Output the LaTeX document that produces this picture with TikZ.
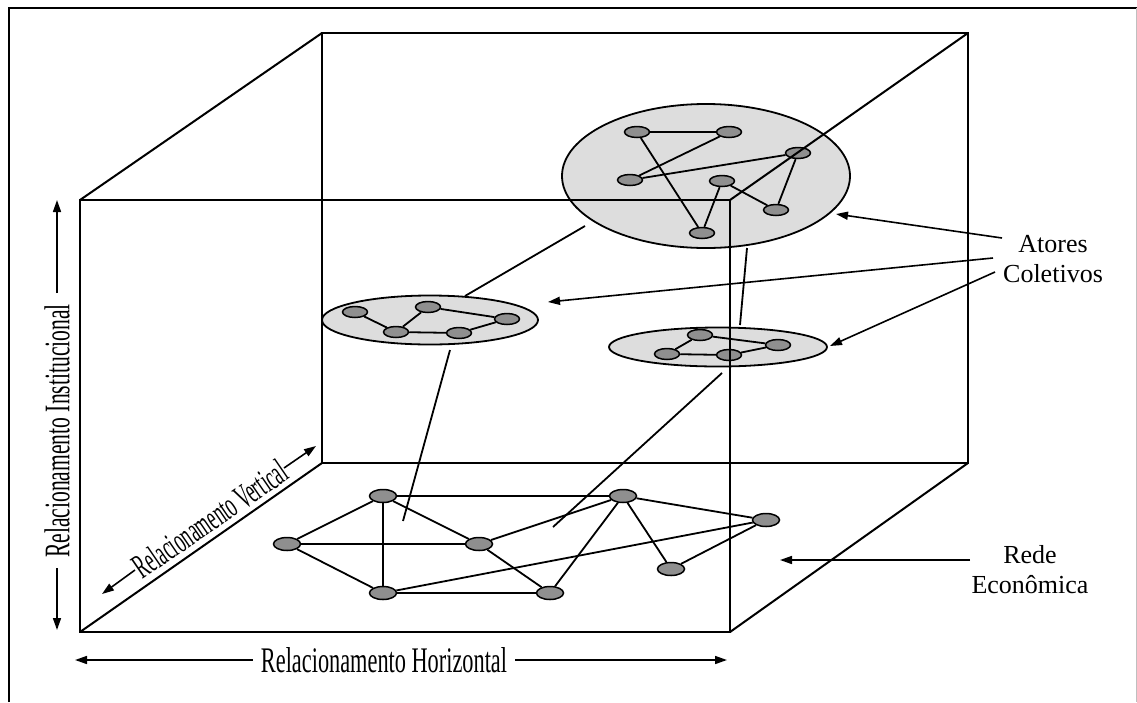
\documentclass[tikz,border=0pt]{standalone}
\usepackage{fontspec}
\setmainfont{Liberation Serif}
\usepackage{graphicx}
\usetikzlibrary{arrows.meta,shapes.geometric}
\definecolor{grpfill}{RGB}{221,221,221}
\definecolor{actfill}{RGB}{143,143,143}
\begin{document}
\begin{tikzpicture}[x=1pt,y=-1pt,
  cube/.style={line width=2pt},
  grp/.style={ellipse, draw, line width=1.8pt, fill=grpfill, inner sep=0pt},
  actor/.style={ellipse, draw, line width=1.5pt, fill=actfill, minimum width=25pt, minimum height=11pt, inner sep=0pt},
  bigactor/.style={actor, minimum width=27pt, minimum height=13pt},
  link/.style={line width=1.8pt},
  arr/.style={line width=1.6pt, -{Triangle[length=12pt,width=8pt]}},
  lbl/.style={font=\fontsize{26}{30}\selectfont, inner sep=0pt},
  clbl/.style={inner sep=0pt},
]
\useasboundingbox (0,0) rectangle (1137,702);

% outer frame
\draw[line width=2pt] (9,702) -- (9,8) -- (1137,8);
\draw[line width=1pt, black!25] (1136,8) -- (1136,702);

% group ellipses
\node[grp, minimum width=288pt, minimum height=144pt] (gtop) at (706,176) {};
\node[grp, minimum width=216pt, minimum height=49pt] (gleft) at (430,320) {};
\node[grp, minimum width=218pt, minimum height=39pt] (gright) at (718,347) {};

% top group actors
\node[actor] (n1) at (637,132) {};
\node[actor] (n2) at (729,132) {};
\node[actor] (n3) at (798,153) {};
\node[actor] (n4) at (630,180) {};
\node[actor] (n5) at (722,181) {};
\node[actor] (n6) at (776,210) {};
\node[actor] (n7) at (702,233) {};
\draw[link] (n1) -- (n2);
\draw[link] (n2) -- (n4);
\draw[link] (n4) -- (n3);
\draw[link] (n1) -- (n7);
\draw[link] (n7) -- (n5);
\draw[link] (n5) -- (n6);
\draw[link] (n6) -- (n3);

% left group actors
\node[actor] (a1) at (355,312) {};
\node[actor] (a2) at (428,307) {};
\node[actor] (a3) at (507,319) {};
\node[actor] (a4) at (396,332) {};
\node[actor] (a5) at (459,333) {};
\draw[link] (a1) -- (a4);
\draw[link] (a4) -- (a2);
\draw[link] (a2) -- (a3);
\draw[link] (a4) -- (a5);
\draw[link] (a5) -- (a3);

% right group actors
\node[actor] (b1) at (700,335) {};
\node[actor] (b2) at (778,345) {};
\node[actor] (b3) at (667,354) {};
\node[actor] (b4) at (729,355) {};
\draw[link] (b1) -- (b3);
\draw[link] (b1) -- (b2);
\draw[link] (b3) -- (b4);
\draw[link] (b4) -- (b2);

% economic network
\node[bigactor] (c1) at (383,496) {};
\node[bigactor] (c2) at (623,496) {};
\node[bigactor] (c3) at (766,520) {};
\node[bigactor] (c4) at (287,544) {};
\node[bigactor] (c5) at (479,544) {};
\node[bigactor] (c6) at (671,569) {};
\node[bigactor] (c7) at (383,593) {};
\node[bigactor] (c8) at (550,593) {};
\draw[link] (c1) -- (c2);
\draw[link] (c1) -- (c4);
\draw[link] (c1) -- (c7);
\draw[link] (c1) -- (c5);
\draw[link] (c4) -- (c5);
\draw[link] (c4) -- (c7);
\draw[link] (c7) -- (c8);
\draw[link] (c7) -- (c3);
\draw[link] (c5) -- (c8);
\draw[link] (c5) -- (c2);
\draw[link] (c2) -- (c8);
\draw[link] (c2) -- (c3);
\draw[link] (c2) -- (c6);
\draw[link] (c6) -- (c3);

% inter-level links
\coordinate (t1) at (585,226); \coordinate (l1) at (465,296);
\coordinate (t2) at (747,248); \coordinate (r1) at (740,325);
\coordinate (l2) at (450,350); \coordinate (e1) at (403,521);
\coordinate (r2) at (722,373); \coordinate (e2) at (553,527);
\draw[link] (t1) -- (l1);
\draw[link] (t2) -- (r1);
\draw[link] (l2) -- (e1);
\draw[link] (r2) -- (e2);

% cube
\coordinate (F1) at (80,200);  \coordinate (F2) at (730,200);
\coordinate (F3) at (730,632); \coordinate (F4) at (80,632);
\coordinate (B1) at (322,33);  \coordinate (B2) at (968,33);
\coordinate (B3) at (968,463); \coordinate (B4) at (322,463);
\draw[cube] (F1) -- (F2) -- (F3) -- (F4) -- cycle;
\draw[cube] (B1) -- (B2) -- (B3) -- (B4) -- cycle;
\draw[cube] (F1) -- (B1);
\draw[cube] (F2) -- (B2);
\draw[cube] (F3) -- (B3);
\draw[cube] (F4) -- (B4);

% labels on the right
\node[lbl, anchor=base] (atores) at (1053,252) {Atores};
\node[lbl, anchor=base] (coletivos) at (1053,282) {Coletivos};
\node[lbl, anchor=base] (rede) at (1030,563) {Rede};
\node[lbl, anchor=base] (economica) at (1030,593) {Econômica};
\coordinate (s1) at (1002,238);
\coordinate (s2) at (993,258);
\coordinate (s3) at (995,272);
\coordinate (s4) at (970,560);
\draw[arr] (s1) -- (836,214);
\draw[arr] (s2) -- (548,302);
\draw[arr] (s3) -- (830,346);
\draw[arr] (s4) -- (780,560);

% axis labels
\node[clbl] (hlab) at (384,660) {\scalebox{0.62}[1]{\fontsize{36}{40}\selectfont Relacionamento Horizontal}};
\draw[arr] (hlab.west) ++(-8,0) coordinate (h1) -- (75,660);
\draw[arr] (hlab.east) ++(8,0) coordinate (h2) -- (727,660);

\node[clbl, rotate=90] (ilab) at (57,431) {\scalebox{0.6}[1]{\fontsize{36}{40}\selectfont Relacionamento Institucional}};
\draw[arr] (57,293) -- (57,200);
\draw[arr] (57,568) -- (57,630);

\node[clbl, rotate=34.4] (vlab) at (210,519) {\scalebox{0.52}[1]{\fontsize{35}{40}\selectfont Relacionamento Vertical}};
\draw[arr] (135,570) -- (102,594);
\draw[arr] (284,468) -- (316,446);
\end{tikzpicture}
\end{document}
